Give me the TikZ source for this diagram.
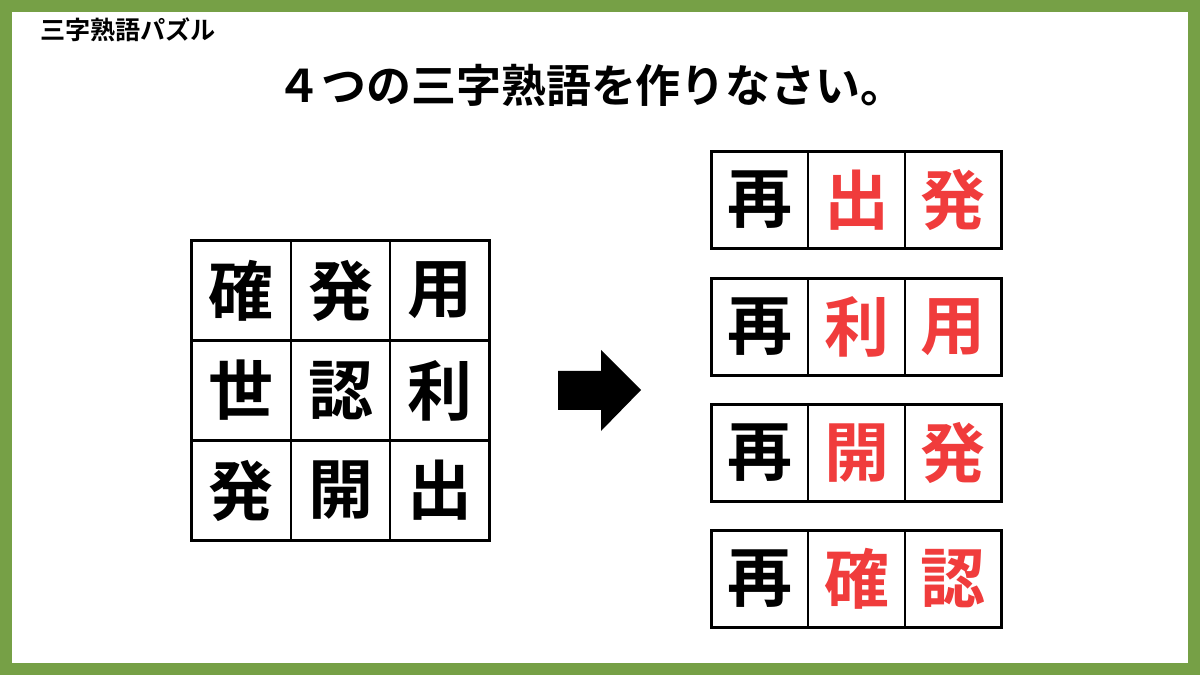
\documentclass[tikz,border=0pt]{standalone}
\usepackage{fontspec}
\newfontfamily\cjk{Noto Sans CJK JP Bold}
\definecolor{frame}{HTML}{76A046}
\definecolor{ans}{HTML}{F03C3C}
\begin{document}
\begin{tikzpicture}[x=0.02cm,y=-0.02cm]

\tikzset{
  Cell/.style = { rectangle, draw, line width=0.9pt, inner sep=0pt,
                  minimum width=1.98cm, minimum height=1.98cm,
                  font=\cjk\fontsize{37}{37}\selectfont },
  Ans/.style = { Cell, minimum width=1.926cm, minimum height=1.92cm },
  Box/.style = { draw, line width=1.7pt },
  Red/.style = { text=ans } }

  \fill[frame] (0,0) rectangle (1200,675);
  \fill[white] (12,12) rectangle (1188,663);

  \node[anchor=west,font=\cjk\fontsize{14.3}{14.3}\selectfont] (sub) at (34,30) {三字熟語パズル};
  \node[font=\cjk\fontsize{25.6}{25.6}\selectfont] (title) at (591,85) {４つの三字熟語を作りなさい。};

  % left grid
  \node[Cell] (g11) at (241.5,290.5) {確};
  \node[Cell] (g12) at (340.5,290.5) {発};
  \node[Cell] (g13) at (439.5,290.5) {用};
  \node[Cell] (g21) at (241.5,390.5) {世};
  \node[Cell] (g22) at (340.5,390.5) {認};
  \node[Cell] (g23) at (439.5,390.5) {利};
  \node[Cell] (g31) at (241.5,490.5) {発};
  \node[Cell] (g32) at (340.5,490.5) {開};
  \node[Cell] (g33) at (439.5,490.5) {出};
  \draw[Box] (g11.north west) rectangle (g33.south east);

  % arrow
  \fill (558,371) -- (601,371) -- (601,350) -- (641,390) -- (601,431)
        -- (601,410) -- (558,410) -- cycle;

  % answers
  \foreach \y/\b/\c [count=\i] in {200/出/発, 327/利/用, 453/開/発, 579/確/認} {
    \node[Ans] (a\i1) at (760,\y) {再};
    \node[Ans,Red] (a\i2) at (856.5,\y) {\b};
    \node[Ans,Red] (a\i3) at (953,\y) {\c};
    \draw[Box] (a\i1.north west) rectangle (a\i3.south east);
  }

\end{tikzpicture}
\end{document}
